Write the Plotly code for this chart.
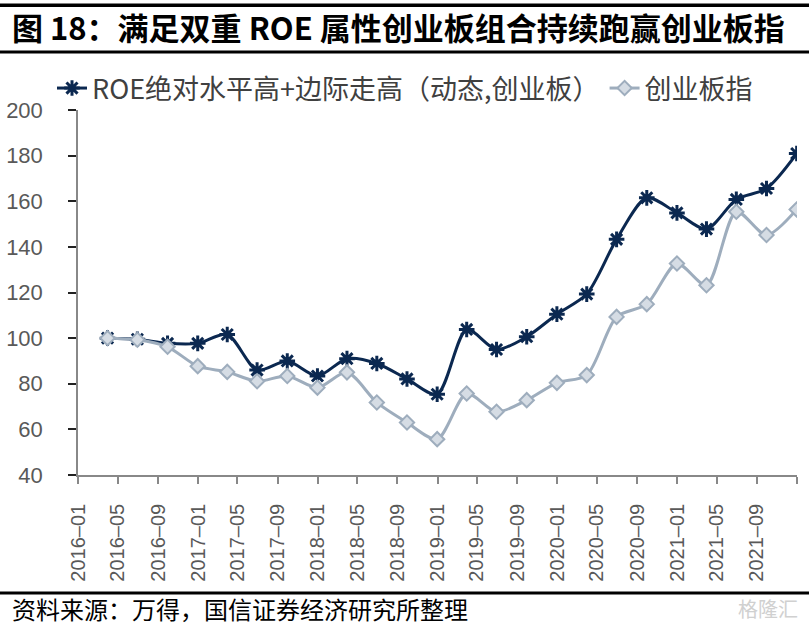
import plotly.graph_objects as go

dates = ["2016-03-31", "2016-06-30", "2016-09-30", "2016-12-31",
         "2017-03-31", "2017-06-30", "2017-09-30", "2017-12-31",
         "2018-03-31", "2018-06-30", "2018-09-30", "2018-12-31",
         "2019-03-31", "2019-06-30", "2019-09-30", "2019-12-31",
         "2020-03-31", "2020-06-30", "2020-09-30", "2020-12-31",
         "2021-03-31", "2021-06-30", "2021-09-30", "2021-12-31"]
roe_portfolio = [100.0, 99.5, 97.7, 97.7, 101.6, 86.0, 90.0, 83.4, 91.0, 88.9, 82.1, 75.4,
                 103.8, 95.0, 100.6, 110.5, 119.3, 143.3, 161.5, 154.9, 147.8, 160.8, 165.6, 180.9]
chinext_index = [100.0, 99.3, 96.2, 87.7, 85.2, 81.1, 83.4, 78.3, 85.0, 71.8, 63.0, 55.7,
                 75.7, 67.7, 72.8, 80.4, 83.8, 109.3, 114.9, 132.7, 123.2, 155.4, 145.2, 156.4]
tick_dates = ["2016-01-01", "2016-05-01", "2016-09-01", "2017-01-01", "2017-05-01", "2017-09-01",
              "2018-01-01", "2018-05-01", "2018-09-01", "2019-01-01", "2019-05-01", "2019-09-01",
              "2020-01-01", "2020-05-01", "2020-09-01", "2021-01-01", "2021-05-01", "2021-09-01",
              "2022-01-01"]
tick_labels = ["2016–01", "2016–05", "2016–09", "2017–01", "2017–05", "2017–09",
               "2018–01", "2018–05", "2018–09", "2019–01", "2019–05", "2019–09",
               "2020–01", "2020–05", "2020–09", "2021–01", "2021–05", "2021–09", ""]
y_ticks = [40, 60, 80, 100, 120, 140, 160, 180, 200]

W, H = 809, 626
L, R, T, B = 78, 12, 110, 151
PW, PH = W - L - R, H - T - B


def px(x):
    return (x - L) / PW


def py(y):
    return (H - B - y) / PH


NAVY = "#0b2850"
GRAY = "#9eadbd"

fig = go.Figure()
fig.add_trace(go.Scatter(
    x=dates, y=roe_portfolio, name="ROE绝对水平高+边际走高（动态,创业板）",
    mode="lines+markers", line=dict(color=NAVY, width=3, shape="spline", smoothing=0.8),
    marker=dict(symbol="asterisk-open", size=13, line=dict(color=NAVY, width=3))))
fig.add_trace(go.Scatter(
    x=dates, y=chinext_index, name="创业板指",
    mode="lines+markers", line=dict(color=GRAY, width=3, shape="spline", smoothing=0.8),
    marker=dict(symbol="diamond", size=11, color="#d5dce4", line=dict(color=GRAY, width=2))))

fig.update_layout(
    width=W, height=H, margin=dict(l=L, r=R, t=T, b=B, autoexpand=False),
    paper_bgcolor="white", plot_bgcolor="white",
    font=dict(family="Liberation Sans, Noto Sans CJK SC", color="#595959"),
    showlegend=True,
    legend=dict(orientation="h", x=px(52), y=py(64), xanchor="left", yanchor="top",
                font=dict(size=27, color="#404040", family="Liberation Sans Narrow, Noto Sans CJK SC"),
                itemwidth=30, tracegroupgap=0, bgcolor="rgba(0,0,0,0)"),
    xaxis=dict(type="date", range=["2016-01-01", "2022-01-01"], tickmode="array",
               tickvals=tick_dates, ticktext=tick_labels, tickangle=-90, automargin=False,
               ticks="outside", ticklen=7, tickcolor="#888888", tickwidth=1.5,
               showline=True, linecolor="#888888", linewidth=1.5, showgrid=False, zeroline=False,
               ticklabelstandoff=12,
               tickfont=dict(size=20, color="#595959", family="Liberation Sans")),
    yaxis=dict(range=[40, 200], tickmode="array", tickvals=y_ticks, automargin=False,
               ticks="outside", ticklen=8, tickcolor="#222222", tickwidth=1.5,
               showline=True, linecolor="#888888", linewidth=1.5, showgrid=False, zeroline=False,
               ticklabelstandoff=21,
               tickfont=dict(size=22, color="#595959", family="Liberation Sans")),
)

# frame rules of the figure header/footer
for y_top, y_bot in [(3.5, 7), (50.5, 53.5), (591.5, 594.5)]:
    fig.add_shape(type="rect", xref="paper", yref="paper", x0=px(0), x1=px(W),
                  y0=py(y_bot), y1=py(y_top), layer="above",
                  fillcolor="black", line=dict(width=0))

fig.add_annotation(text="<b>图 18：满足双重 ROE 属性创业板组合持续跑赢创业板指</b>",
                   xref="paper", yref="paper", x=px(10), y=py(26), xanchor="left", yanchor="middle",
                   showarrow=False, font=dict(size=31, color="black", family="Noto Sans CJK SC"))
fig.add_annotation(text="资料来源：万得，国信证券经济研究所整理",
                   xref="paper", yref="paper", x=px(10), y=py(608), xanchor="left", yanchor="middle",
                   showarrow=False, font=dict(size=24, color="black", family="Noto Sans CJK SC"))
fig.add_annotation(text="格隆汇",
                   xref="paper", yref="paper", x=px(800), y=py(608), xanchor="right", yanchor="middle",
                   showarrow=False, font=dict(size=20, color="#d0d0d0", family="Noto Sans CJK SC"))

fig.write_html("out.html", config={"displayModeBar": False},
               post_script="document.body.style.margin='0';document.body.style.overflow='hidden';")
